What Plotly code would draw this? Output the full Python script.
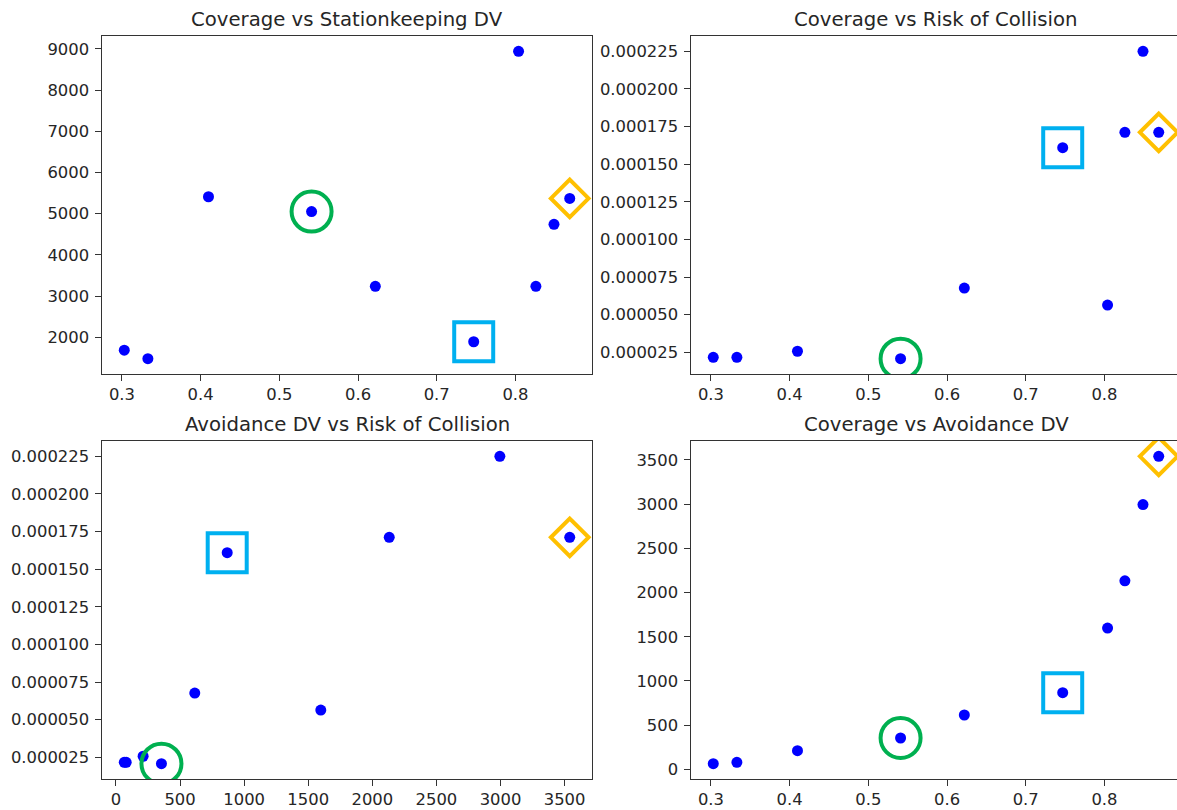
import plotly.graph_objects as go

# ---- data ----
coverage = [0.303, 0.333, 0.410, 0.541, 0.622, 0.747, 0.804, 0.826, 0.849, 0.869]
stationkeeping_dv = [1685, 1480, 5410, 5050, 3235, 1890, 8940, 3235, 4740, 5370]
risk_of_collision = [2.17e-5, 2.17e-5, 2.57e-5, 2.08e-5, 6.77e-5, 1.61e-4, 5.64e-5, 1.712e-4, 2.25e-4, 1.712e-4]
avoidance_dv = [65, 80, 212, 355, 615, 868, 1598, 2132, 2995, 3540]

titles = ["Coverage vs Stationkeeping DV", "Coverage vs Risk of Collision",
          "Avoidance DV vs Risk of Collision", "Coverage vs Avoidance DV"]

# highlighted designs: (index, symbol, colour, size)
highlights = [(3, "circle-open", "#00b050", 40),
              (5, "square-open", "#00b0f0", 39),
              (9, "diamond-open", "#ffc000", 29)]

W, H = 1177, 810
FONT = "DejaVu Sans"
TXT = "#262626"

def mrange(v, frac=0.05):
    lo, hi = min(v), max(v)
    m = (hi - lo) * frac
    return [lo - m, hi + m]

# axes pixel boxes (left, right, top, bottom)
boxes = [(102, 592, 36, 374), (691, 1181, 36, 374),
         (102, 592, 441, 779), (691, 1181, 441, 779)]
pairs = [(coverage, stationkeeping_dv), (coverage, risk_of_collision),
         (avoidance_dv, risk_of_collision), (coverage, avoidance_dv)]

fig = go.Figure()
annotations = []
for i, ((xs, ys), (l, r, t, b)) in enumerate(zip(pairs, boxes)):
    n = "" if i == 0 else str(i + 1)
    xr = mrange(xs)
    yr = mrange(ys)
    # axes that run past the page edge are cut at the edge
    rr = min(r, W)
    xr_vis = [xr[0], xr[0] + (xr[1] - xr[0]) * (rr - l) / (r - l)]
    fig.add_trace(go.Scatter(x=xs, y=ys, mode="markers", xaxis="x" + n, yaxis="y" + n,
                             marker=dict(color="#0000ff", size=11, line=dict(width=0)),
                             showlegend=False, hoverinfo="x+y"))
    for idx, sym, col, sz in highlights:
        fig.add_trace(go.Scatter(x=[xs[idx]], y=[ys[idx]], mode="markers",
                                 xaxis="x" + n, yaxis="y" + n,
                                 marker=dict(symbol=sym, size=sz, color=col,
                                             line=dict(color=col, width=4)),
                                 showlegend=False, hoverinfo="skip"))
    is_risk = ys is risk_of_collision
    xdict = dict(domain=[l / W, rr / W], range=xr_vis, anchor="y" + n,
                 showline=True, linecolor="#333333", linewidth=1.2, mirror=True,
                 ticks="outside", ticklen=5.5, tickwidth=1.2, tickcolor="#333333",
                 showgrid=False, zeroline=False,
                 tickfont=dict(family=FONT, size=16.4, color=TXT))
    if xs is coverage:
        xdict.update(tick0=0.3, dtick=0.1, tickformat=".1f")
    else:
        xdict.update(tick0=0, dtick=500)
    ydict = dict(domain=[(H - b) / H, (H - t) / H], range=yr, anchor="x" + n,
                 showline=True, linecolor="#333333", linewidth=1.2,
                 mirror=(r <= W),
                 ticks="outside", ticklen=5.5, tickwidth=1.2, tickcolor="#333333",
                 showgrid=False, zeroline=False, ticklabelstandoff=3,
                 tickfont=dict(family=FONT, size=16.4, color=TXT))
    if is_risk:
        ydict.update(tick0=0.000025, dtick=0.000025, tickformat=".6f")
    elif ys is stationkeeping_dv:
        ydict.update(tick0=0, dtick=1000)
    else:
        ydict.update(tick0=0, dtick=500)
    fig.layout["xaxis" + n] = xdict
    fig.layout["yaxis" + n] = ydict
    annotations.append(dict(text=titles[i], xref="paper", yref="paper",
                            x=(l + r) / 2 / W, y=(H - (t - 17)) / H,
                            xanchor="center", yanchor="middle", showarrow=False,
                            font=dict(family=FONT, size=19.7, color=TXT)))

fig.update_layout(width=W, height=H, margin=dict(l=0, r=0, t=0, b=0),
                  paper_bgcolor="white", plot_bgcolor="white",
                  annotations=annotations)
fig.write_html("out.html")
